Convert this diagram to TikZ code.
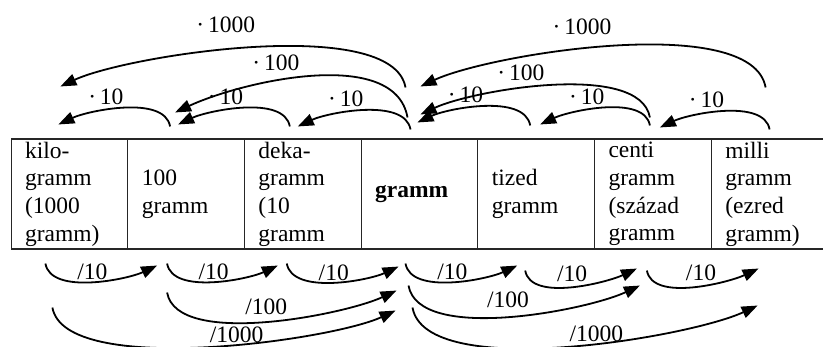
\documentclass[tikz,border=0pt]{standalone}
\usepackage{fontspec}
\setmainfont{Liberation Serif}
\usetikzlibrary{arrows.meta,positioning}

\begin{document}
\begin{tikzpicture}[x=1pt,y=1pt]
                        \tikzset{Cell/.style={%
                                shape=rectangle,%
                                draw=black!85,%
                                line width=1.1pt,%
                                minimum width=116.7pt,%
                                minimum height=110pt,%
                                text width=88.7pt,%
                                inner xsep=14pt,%
                                inner ysep=0pt,%
                                align=left,%
                                font=\fontsize{23.5}{27.6}\selectfont,%
                                node distance=116.7pt,%
                            },
                            Arr/.style={-{Triangle[length=16pt,width=12pt]}, line width=1.8pt},
                            Lab/.style={font=\fontsize{23.5}{27.6}\selectfont, inner sep=1pt}}

                            \useasboundingbox (0,0) rectangle (823,346);

                            \node[Cell] (kg) at (69.4,152) {kilo-\\gramm\\(1000\\gramm)};
                            \node[Cell, right of=kg] (hg) {100\\gramm};
                            \node[Cell, right of=hg] (dkg) {deka-\\gramm\\(10\\gramm};
                            \node[Cell, right of=dkg] (g) {\textbf{gramm}};
                            \node[Cell, right of=g] (dg) {tized\\gramm};
                            \node[Cell, right of=dg] (cg) {centi\\gramm\\(század\\gramm};
                            \node[Cell, right of=cg] (mg) {milli\\gramm\\(ezred\\gramm)};

                            % szorzas (felso ivek)
                            \draw[Arr] ([xshift=-16pt,yshift=12pt]hg.north) to[out=100,in=25,looseness=.74] node[Lab,above=4pt,pos=.62] (m1) {·\,10} ([xshift=-11pt,yshift=14pt]kg.north);
                            \draw[Arr] ([xshift=-13pt,yshift=12pt]dkg.north) to[out=100,in=25,looseness=.74] node[Lab,above=4pt,pos=.62] (m2) {·\,10} ([xshift=-8pt,yshift=14pt]hg.north);
                            \draw[Arr] ([xshift=-9pt,yshift=9pt]g.north) to[out=100,in=25,looseness=.74] node[Lab,above=4pt,pos=.62] (m3) {·\,10} ([xshift=-5pt,yshift=12pt]dkg.north);
                            \draw[Arr] ([xshift=-12pt,yshift=21pt]g.north) to[out=100,in=25,looseness=.8] node[Lab,above=9pt,pos=.62] (m4) {·\,100} ([xshift=-11pt,yshift=26pt]hg.north);
                            \draw[Arr] ([xshift=-14pt,yshift=51pt]g.north) to[out=100,in=25,looseness=.55] node[Lab,above=15pt,pos=.56] (m5) {·\,1000} ([xshift=-9pt,yshift=52pt]kg.north);
                            \draw[Arr] ([xshift=-6pt,yshift=13pt]dg.north) to[out=100,in=25,looseness=.74] node[Lab,above=4pt,pos=.62] (m6) {·\,10} ([xshift=-2pt,yshift=16pt]g.north);
                            \draw[Arr] ([xshift=-3pt,yshift=13pt]cg.north) to[out=100,in=25,looseness=.74] node[Lab,above=4pt,pos=.62] (m7) {·\,10} ([xshift=4pt,yshift=14pt]dg.north);
                            \draw[Arr] ([yshift=9pt]mg.north) to[out=100,in=25,looseness=.74] node[Lab,above=4pt,pos=.62] (m8) {·\,10} ([xshift=7pt,yshift=11pt]cg.north);
                            \draw[Arr] ([xshift=-3pt,yshift=21pt]cg.north) to[out=100,in=25,looseness=.64] node[Lab,above=6pt,pos=.6] (m9) {·\,100} ([xshift=1pt,yshift=24pt]g.north);
                            \draw[Arr] ([xshift=-4pt,yshift=51pt]mg.north) to[out=100,in=25,looseness=.57] node[Lab,above=13pt,pos=.57] (m10) {·\,1000} ([xshift=1pt,yshift=52pt]g.north);

                            % osztas (also ivek)
                            \draw[Arr] ([xshift=-24pt,yshift=-14pt]kg.south) to[out=-80,in=-155,looseness=.74] node[Lab,above] (d1) {/10} ([xshift=-29pt,yshift=-16pt]hg.south);
                            \draw[Arr] ([xshift=-19pt,yshift=-14pt]hg.south) to[out=-80,in=-155,looseness=.74] node[Lab,above] (d2) {/10} ([xshift=-25pt,yshift=-16pt]dkg.south);
                            \draw[Arr] ([xshift=-16pt,yshift=-14pt]dkg.south) to[out=-80,in=-155,looseness=.74] node[Lab,above] (d3) {/10} ([xshift=-21pt,yshift=-17pt]g.south);
                            \draw[Arr] ([xshift=-19pt,yshift=-43pt]hg.south) to[out=-80,in=-155,looseness=.63] node[Lab,above=5pt] (d4) {/100} ([xshift=-23pt,yshift=-41pt]g.south);
                            \draw[Arr] ([xshift=-17pt,yshift=-58pt]kg.south) to[out=-80,in=-155,looseness=.53] node[Lab,above,pos=.57] (d5) {/1000} ([xshift=-24pt,yshift=-61pt]g.south);
                            \draw[Arr] ([xshift=-14pt,yshift=-14pt]g.south) to[out=-80,in=-155,looseness=.74] node[Lab,above] (d6) {/10} ([xshift=-19pt,yshift=-16pt]dg.south);
                            \draw[Arr] ([xshift=-11pt,yshift=-21pt]dg.south) to[out=-80,in=-155,looseness=.74] node[Lab,above=3pt] (d7) {/10} ([xshift=-16pt,yshift=-19pt]cg.south);
                            \draw[Arr] ([xshift=-6pt,yshift=-21pt]cg.south) to[out=-80,in=-155,looseness=.74] node[Lab,above=3pt,pos=.55] (d8) {/10} ([xshift=-11pt,yshift=-19pt]mg.south);
                            \draw[Arr] ([xshift=-11pt,yshift=-36pt]g.south) to[out=-80,in=-155,looseness=.65] node[Lab,above=7pt] (d9) {/100} ([xshift=-13pt,yshift=-36pt]cg.south);
                            \draw[Arr] ([xshift=-7pt,yshift=-58pt]g.south) to[out=-80,in=-155,looseness=.56] node[Lab,above,pos=.57] (d10) {/1000} ([xshift=-12pt,yshift=-56pt]mg.south);
                    \end{tikzpicture}
\end{document}
